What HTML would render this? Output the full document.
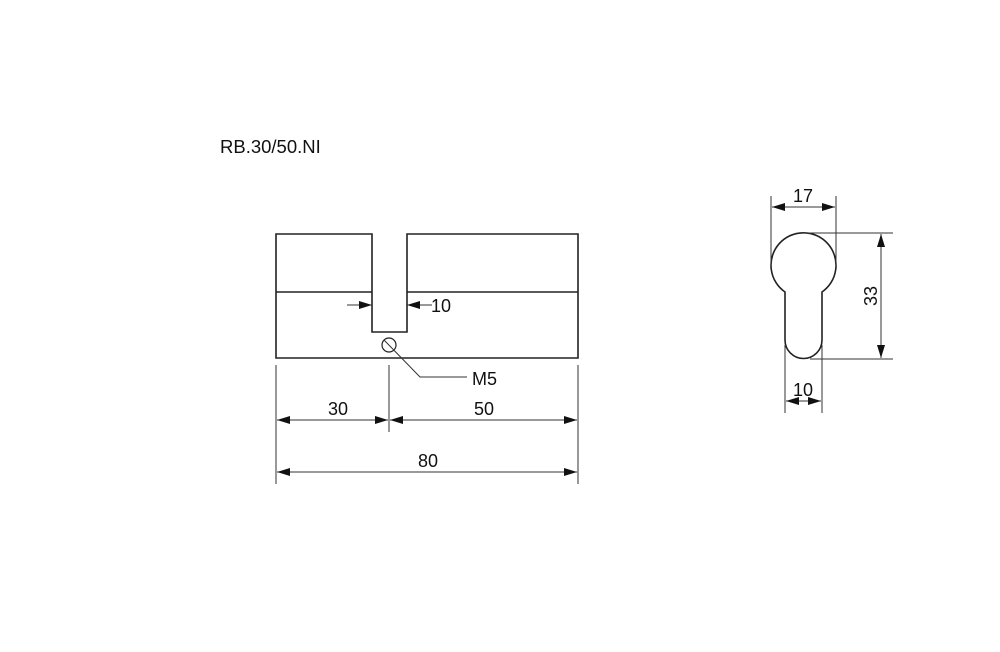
<!DOCTYPE html>
<html><head><meta charset="utf-8"><style>
html,body{margin:0;padding:0;background:#fff}
svg{display:block}
text{font-family:"Liberation Sans",Arial,sans-serif;fill:#111}
</style></head><body>
<svg width="1000" height="652" viewBox="0 0 1000 652" xmlns="http://www.w3.org/2000/svg">
<defs>
<marker id="a" viewBox="0 0 13 8" refX="13" refY="4" markerWidth="13" markerHeight="8" markerUnits="userSpaceOnUse" orient="auto-start-reverse">
<path d="M0,0 L13,4 L0,8 Z" fill="#111"/>
</marker>
</defs>
<text x="220" y="153" font-size="18.5">RB.30/50.NI</text>
<g fill="none" stroke="#222" stroke-width="1.6">
<path d="M372,234 L276,234 L276,358 L578,358 L578,234 L407,234 L407,332 L372,332 Z"/>
<line x1="276" y1="292" x2="372" y2="292"/>
<line x1="407" y1="292" x2="578" y2="292"/>
<circle cx="389" cy="345" r="7" stroke-width="1.2"/>
</g>
<g stroke="#333" stroke-width="1" fill="none">
<line x1="347" y1="305" x2="372" y2="305" marker-end="url(#a)"/>
<line x1="432" y1="305" x2="407" y2="305" marker-end="url(#a)"/>
<polyline points="384,340 420,377 467,377"/>
<line x1="276" y1="365" x2="276" y2="484"/>
<line x1="578" y1="365" x2="578" y2="484"/>
<line x1="389" y1="365" x2="389" y2="432"/>
<line x1="277" y1="420" x2="388" y2="420" marker-start="url(#a)" marker-end="url(#a)"/>
<line x1="390" y1="420" x2="577" y2="420" marker-start="url(#a)" marker-end="url(#a)"/>
<line x1="277" y1="472" x2="577" y2="472" marker-start="url(#a)" marker-end="url(#a)"/>
</g>
<text x="431" y="312" font-size="18">10</text>
<text x="472" y="385" font-size="18">M5</text>
<text x="338" y="415" font-size="18" text-anchor="middle">30</text>
<text x="484" y="415" font-size="18" text-anchor="middle">50</text>
<text x="428" y="467" font-size="18" text-anchor="middle">80</text>
<path d="M785,292 A32.5,32.5 0 1 1 822,292 L822,340 A18.5,18.5 0 0 1 785,340 Z" fill="none" stroke="#222" stroke-width="1.6"/>
<g stroke="#333" stroke-width="1" fill="none">
<line x1="771" y1="196" x2="771" y2="266"/>
<line x1="836" y1="196" x2="836" y2="266"/>
<line x1="772" y1="207" x2="835" y2="207" marker-start="url(#a)" marker-end="url(#a)"/>
<line x1="803" y1="233" x2="893" y2="233"/>
<line x1="810" y1="359" x2="893" y2="359"/>
<line x1="881" y1="234" x2="881" y2="358" marker-start="url(#a)" marker-end="url(#a)"/>
<line x1="785" y1="345" x2="785" y2="413"/>
<line x1="822" y1="345" x2="822" y2="413"/>
<line x1="786" y1="401" x2="821" y2="401" marker-start="url(#a)" marker-end="url(#a)"/>
</g>
<text x="803" y="202" font-size="18" text-anchor="middle">17</text>
<text x="803" y="396" font-size="18" text-anchor="middle">10</text>
<text x="0" y="0" font-size="18" text-anchor="middle" transform="translate(877,296) rotate(-90)">33</text>
</svg>
</body></html>
